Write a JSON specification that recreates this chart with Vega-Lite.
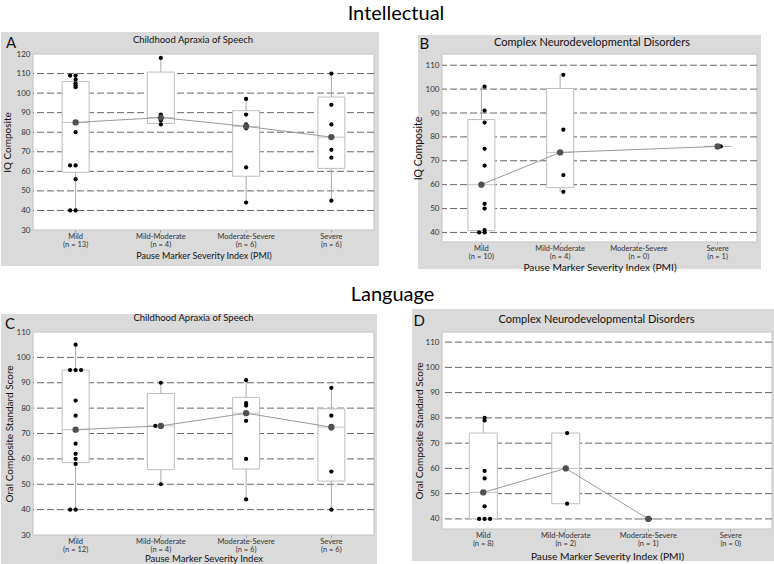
{
 "$schema": "https://vega.github.io/schema/vega-lite/v6.json",
 "background": "white",
 "padding": {"top": 4, "left": 0, "right": 0, "bottom": 0},
 "spacing": 11,
 "config": {
  "view": {"stroke": null},
  "font": "Lato",
  "axis": {"grid": false, "domain": false, "labelFont": "Lato", "titleFont": "Lato", "titleFontWeight": "normal", "labelColor": "#333", "titleColor": "#111", "labelOverlap": false},
  "axisY": {"ticks": false, "labelPadding": 3, "labelFontSize": 8, "titleFontSize": 10},
  "axisX": {"ticks": true, "tickSize": 2, "tickColor": "#999", "labelPadding": 0.5, "labelFontSize": 7.5, "labelLineHeight": 8, "labelAngle": 0, "titlePadding": 1, "titleFontSize": 9}
 },
 "datasets": {
  "grid_ab": [{"v":40},{"v":50},{"v":60},{"v":70},{"v":80},{"v":90},{"v":100},{"v":110}],
  "grid_c": [{"v":40},{"v":50},{"v":60},{"v":70},{"v":80},{"v":90},{"v":100}],
  "A_stats": [
   {"g":"Mild (n = 13)","lo":40,"q1":59.5,"med":85,"q3":106,"hi":109},
   {"g":"Mild-Moderate (n = 4)","lo":84,"q1":84.5,"med":87.5,"q3":110.75,"hi":118},
   {"g":"Moderate-Severe (n = 6)","lo":44,"q1":57.5,"med":83,"q3":91,"hi":97},
   {"g":"Severe (n = 6)","lo":45,"q1":61.5,"med":77.5,"q3":98,"hi":110}
  ],
  "A_pts": [
   {"g":"Mild (n = 13)","v":40},{"g":"Mild (n = 13)","v":40},{"g":"Mild (n = 13)","v":56},{"g":"Mild (n = 13)","v":63},{"g":"Mild (n = 13)","v":63},{"g":"Mild (n = 13)","v":80},{"g":"Mild (n = 13)","v":85},{"g":"Mild (n = 13)","v":103},{"g":"Mild (n = 13)","v":104},{"g":"Mild (n = 13)","v":105},{"g":"Mild (n = 13)","v":107},{"g":"Mild (n = 13)","v":109},{"g":"Mild (n = 13)","v":109},
   {"g":"Mild-Moderate (n = 4)","v":84},{"g":"Mild-Moderate (n = 4)","v":86},{"g":"Mild-Moderate (n = 4)","v":89},{"g":"Mild-Moderate (n = 4)","v":118},
   {"g":"Moderate-Severe (n = 6)","v":44},{"g":"Moderate-Severe (n = 6)","v":62},{"g":"Moderate-Severe (n = 6)","v":82},{"g":"Moderate-Severe (n = 6)","v":84},{"g":"Moderate-Severe (n = 6)","v":89},{"g":"Moderate-Severe (n = 6)","v":97},
   {"g":"Severe (n = 6)","v":45},{"g":"Severe (n = 6)","v":67},{"g":"Severe (n = 6)","v":71},{"g":"Severe (n = 6)","v":84},{"g":"Severe (n = 6)","v":94},{"g":"Severe (n = 6)","v":110}
  ],
  "B_stats": [
   {"g":"Mild (n = 10)","lo":40,"q1":40.75,"med":60,"q3":87.25,"hi":101},
   {"g":"Mild-Moderate (n = 4)","lo":57,"q1":58.75,"med":73.5,"q3":100.25,"hi":106},
   {"g":"Severe (n = 1)","lo":76,"q1":76,"med":76,"q3":76,"hi":76}
  ],
  "B_pts": [
   {"g":"Mild (n = 10)","v":40},{"g":"Mild (n = 10)","v":40},{"g":"Mild (n = 10)","v":41},{"g":"Mild (n = 10)","v":50},{"g":"Mild (n = 10)","v":52},{"g":"Mild (n = 10)","v":68},{"g":"Mild (n = 10)","v":75},{"g":"Mild (n = 10)","v":86},{"g":"Mild (n = 10)","v":91},{"g":"Mild (n = 10)","v":101},
   {"g":"Mild-Moderate (n = 4)","v":57},{"g":"Mild-Moderate (n = 4)","v":64},{"g":"Mild-Moderate (n = 4)","v":83},{"g":"Mild-Moderate (n = 4)","v":106},
   {"g":"Severe (n = 1)","v":76}
  ],
  "C_stats": [
   {"g":"Mild (n = 12)","lo":40,"q1":58.5,"med":71.5,"q3":95,"hi":105},
   {"g":"Mild-Moderate (n = 4)","lo":50,"q1":55.75,"med":73,"q3":85.75,"hi":90},
   {"g":"Moderate-Severe (n = 6)","lo":44,"q1":56,"med":78,"q3":84.25,"hi":91},
   {"g":"Severe (n = 6)","lo":40,"q1":51.25,"med":72.5,"q3":79.75,"hi":88}
  ],
  "C_pts": [
   {"g":"Mild (n = 12)","v":40},{"g":"Mild (n = 12)","v":40},{"g":"Mild (n = 12)","v":58},{"g":"Mild (n = 12)","v":60},{"g":"Mild (n = 12)","v":62},{"g":"Mild (n = 12)","v":66},{"g":"Mild (n = 12)","v":77},{"g":"Mild (n = 12)","v":83},{"g":"Mild (n = 12)","v":95},{"g":"Mild (n = 12)","v":95},{"g":"Mild (n = 12)","v":95},{"g":"Mild (n = 12)","v":105},
   {"g":"Mild-Moderate (n = 4)","v":50},{"g":"Mild-Moderate (n = 4)","v":73},{"g":"Mild-Moderate (n = 4)","v":73},{"g":"Mild-Moderate (n = 4)","v":90},
   {"g":"Moderate-Severe (n = 6)","v":44},{"g":"Moderate-Severe (n = 6)","v":60},{"g":"Moderate-Severe (n = 6)","v":75},{"g":"Moderate-Severe (n = 6)","v":81},{"g":"Moderate-Severe (n = 6)","v":82},{"g":"Moderate-Severe (n = 6)","v":91},
   {"g":"Severe (n = 6)","v":40},{"g":"Severe (n = 6)","v":55},{"g":"Severe (n = 6)","v":72},{"g":"Severe (n = 6)","v":73},{"g":"Severe (n = 6)","v":77},{"g":"Severe (n = 6)","v":88}
  ],
  "D_stats": [
   {"g":"Mild (n = 8)","lo":40,"q1":40,"med":50.5,"q3":74,"hi":80},
   {"g":"Mild-Moderate (n = 2)","lo":46,"q1":46,"med":60,"q3":74,"hi":74},
   {"g":"Moderate-Severe (n = 1)","lo":40,"q1":40,"med":40,"q3":40,"hi":40}
  ],
  "D_pts": [
   {"g":"Mild (n = 8)","v":40},{"g":"Mild (n = 8)","v":40},{"g":"Mild (n = 8)","v":40},{"g":"Mild (n = 8)","v":45},{"g":"Mild (n = 8)","v":56},{"g":"Mild (n = 8)","v":59},{"g":"Mild (n = 8)","v":79},{"g":"Mild (n = 8)","v":80},
   {"g":"Mild-Moderate (n = 2)","v":46},{"g":"Mild-Moderate (n = 2)","v":74},
   {"g":"Moderate-Severe (n = 1)","v":40}
  ]
 },
 "vconcat": [
  {
   "title": {"text": "Intellectual", "font": "Lato", "fontSize": 20, "fontWeight": "normal", "color": "#000", "frame": "bounds", "anchor": "middle", "baseline": "alphabetic", "offset": -8, "dx": 15},
   "spacing": 33,
   "hconcat": [
    {
     "width": 341, "height": 176,
     "layer": [
      {"data": {"values": [{}]}, "mark": {"type": "rect", "fill": "#dadada", "clip": false},
       "encoding": {"x": {"datum": "Mild (n = 13)", "type": "nominal", "bandPosition": -0.3754, "scale": {"type": "band", "domain": ["Mild (n = 13)", "Mild-Moderate (n = 4)", "Moderate-Severe (n = 6)", "Severe (n = 6)"], "paddingInner": 0, "paddingOuter": 0}},
                    "x2": {"datum": "Severe (n = 6)", "bandPosition": 1.0587},
                    "y": {"datum": 11.59, "type": "quantitative", "scale": {"domain": [30, 120], "nice": false, "zero": false}}, "y2": {"datum": 131.25}}},
      {"data": {"values": [{}]}, "mark": {"type": "rect", "fill": "white", "stroke": "#c4c4c4", "strokeWidth": 1},
       "encoding": {"x": {"datum": "Mild (n = 13)", "type": "nominal", "bandPosition": 0, "scale": {"type": "band", "domain": ["Mild (n = 13)", "Mild-Moderate (n = 4)", "Moderate-Severe (n = 6)", "Severe (n = 6)"], "paddingInner": 0, "paddingOuter": 0}},
                    "x2": {"datum": "Severe (n = 6)", "bandPosition": 1},
                    "y": {"datum": 30, "type": "quantitative", "scale": {"domain": [30, 120], "nice": false, "zero": false}}, "y2": {"datum": 120}}},
      {"data": {"values": [{"label": "A"}]}, "mark": {"type": "text", "font": "Lato", "fontSize": 15, "align": "left", "baseline": "alphabetic", "color": "#111", "clip": false},
       "encoding": {"x": {"datum": "Mild (n = 13)", "type": "nominal", "bandPosition": -0.3167, "scale": {"type": "band", "domain": ["Mild (n = 13)", "Mild-Moderate (n = 4)", "Moderate-Severe (n = 6)", "Severe (n = 6)"], "paddingInner": 0, "paddingOuter": 0}},
                    "y": {"datum": 123.22, "type": "quantitative", "scale": {"domain": [30, 120], "nice": false, "zero": false}}, "text": {"field": "label"}}},
      {"data": {"values": [{"label": "Childhood Apraxia of Speech"}]}, "mark": {"type": "text", "font": "Lato", "fontSize": 9.5, "align": "center", "baseline": "alphabetic", "color": "#111", "clip": false},
       "encoding": {"x": {"datum": "Mild (n = 13)", "type": "nominal", "bandPosition": 1.8768, "scale": {"type": "band", "domain": ["Mild (n = 13)", "Mild-Moderate (n = 4)", "Moderate-Severe (n = 6)", "Severe (n = 6)"], "paddingInner": 0, "paddingOuter": 0}},
                    "y": {"datum": 125.88, "type": "quantitative", "scale": {"domain": [30, 120], "nice": false, "zero": false}}, "text": {"field": "label"}}},
      {"data": {"name": "grid_ab"}, "mark": {"type": "rule", "color": "#666", "strokeDash": [7, 3], "strokeWidth": 1},
       "encoding": {"y": {"field": "v", "type": "quantitative", "scale": {"domain": [30, 120], "nice": false, "zero": false}, "axis": {"zindex": 1, "title": "IQ Composite", "values": [30, 40, 50, 60, 70, 80, 90, 100, 110, 120], "tickCount": 20, "labelOverlap": false, "titlePadding": 4}}}},
      {"data": {"name": "A_stats"}, "mark": {"type": "rule", "color": "#aaa", "strokeWidth": 1},
       "encoding": {"x": {"field": "g", "type": "nominal", "scale": {"type": "band", "domain": ["Mild (n = 13)", "Mild-Moderate (n = 4)", "Moderate-Severe (n = 6)", "Severe (n = 6)"], "paddingInner": 0, "paddingOuter": 0}, "axis": {"zindex": 1, "title": "Pause Marker Severity Index (PMI)", "labelLineHeight": 8, "titlePadding": 3, "labelExpr": "[split(datum.label, ' (')[0], '(' + split(datum.label, ' (')[1]]"}},
                    "y": {"field": "lo", "type": "quantitative", "scale": {"domain": [30, 120], "nice": false, "zero": false}}, "y2": {"field": "hi"}}},
      {"data": {"name": "A_stats"}, "mark": {"type": "bar", "width": 27, "fill": "white", "stroke": "#bdbdbd", "strokeWidth": 1},
       "encoding": {"x": {"field": "g", "type": "nominal", "scale": {"type": "band", "domain": ["Mild (n = 13)", "Mild-Moderate (n = 4)", "Moderate-Severe (n = 6)", "Severe (n = 6)"], "paddingInner": 0, "paddingOuter": 0}},
                    "y": {"field": "q1", "type": "quantitative", "scale": {"domain": [30, 120], "nice": false, "zero": false}}, "y2": {"field": "q3"}}},
      {"data": {"name": "A_stats"}, "mark": {"type": "tick", "size": 27, "thickness": 1, "color": "#aaa"},
       "encoding": {"x": {"field": "g", "type": "nominal", "scale": {"type": "band", "domain": ["Mild (n = 13)", "Mild-Moderate (n = 4)", "Moderate-Severe (n = 6)", "Severe (n = 6)"], "paddingInner": 0, "paddingOuter": 0}},
                    "y": {"field": "med", "type": "quantitative", "scale": {"domain": [30, 120], "nice": false, "zero": false}}}},
      {"data": {"name": "A_stats"}, "mark": {"type": "line", "color": "#9a9a9a", "strokeWidth": 1},
       "encoding": {"x": {"field": "g", "type": "nominal", "scale": {"type": "band", "domain": ["Mild (n = 13)", "Mild-Moderate (n = 4)", "Moderate-Severe (n = 6)", "Severe (n = 6)"], "paddingInner": 0, "paddingOuter": 0}},
                    "y": {"field": "med", "type": "quantitative", "scale": {"domain": [30, 120], "nice": false, "zero": false}}}},
      {"data": {"name": "A_pts"}, "transform": [{"window": [{"op": "row_number", "as": "rn"}], "groupby": ["g", "v"]}],
       "mark": {"type": "circle", "size": 18, "color": "#000", "opacity": 1},
       "encoding": {"x": {"field": "g", "type": "nominal", "scale": {"type": "band", "domain": ["Mild (n = 13)", "Mild-Moderate (n = 4)", "Moderate-Severe (n = 6)", "Severe (n = 6)"], "paddingInner": 0, "paddingOuter": 0}},
                    "xOffset": {"field": "rn", "type": "nominal", "scale": {"type": "point", "domain": [2, 1, 3], "range": [37.1, 48.1], "padding": 0}},
                    "y": {"field": "v", "type": "quantitative", "scale": {"domain": [30, 120], "nice": false, "zero": false}}}},
      {"data": {"name": "A_stats"}, "mark": {"type": "circle", "size": 40, "color": "#505050", "opacity": 1},
       "encoding": {"x": {"field": "g", "type": "nominal", "scale": {"type": "band", "domain": ["Mild (n = 13)", "Mild-Moderate (n = 4)", "Moderate-Severe (n = 6)", "Severe (n = 6)"], "paddingInner": 0, "paddingOuter": 0}},
                    "y": {"field": "med", "type": "quantitative", "scale": {"domain": [30, 120], "nice": false, "zero": false}}}}
     ]
    },
    {
     "width": 315, "height": 188,
     "layer": [
      {"data": {"values": [{}]}, "mark": {"type": "rect", "fill": "#dadada", "clip": false},
       "encoding": {"x": {"datum": "Mild (n = 10)", "type": "nominal", "bandPosition": -0.3048, "scale": {"type": "band", "domain": ["Mild (n = 10)", "Mild-Moderate (n = 4)", "Moderate-Severe (n = 0)", "Severe (n = 1)"], "paddingInner": 0, "paddingOuter": 0}},
                    "x2": {"datum": "Severe (n = 1)", "bandPosition": 1.0508},
                    "y": {"datum": 24.7, "type": "quantitative", "scale": {"domain": [36, 114.7], "nice": false, "zero": false}}, "y2": {"datum": 122.65}}},
      {"data": {"values": [{}]}, "mark": {"type": "rect", "fill": "white", "stroke": "#c4c4c4", "strokeWidth": 1},
       "encoding": {"x": {"datum": "Mild (n = 10)", "type": "nominal", "bandPosition": 0, "scale": {"type": "band", "domain": ["Mild (n = 10)", "Mild-Moderate (n = 4)", "Moderate-Severe (n = 0)", "Severe (n = 1)"], "paddingInner": 0, "paddingOuter": 0}},
                    "x2": {"datum": "Severe (n = 1)", "bandPosition": 1},
                    "y": {"datum": 36, "type": "quantitative", "scale": {"domain": [36, 114.7], "nice": false, "zero": false}}, "y2": {"datum": 114.7}}},
      {"data": {"values": [{"label": "B"}]}, "mark": {"type": "text", "font": "Lato", "fontSize": 15, "align": "left", "baseline": "alphabetic", "color": "#111", "clip": false},
       "encoding": {"x": {"datum": "Mild (n = 10)", "type": "nominal", "bandPosition": -0.2857, "scale": {"type": "band", "domain": ["Mild (n = 10)", "Mild-Moderate (n = 4)", "Moderate-Severe (n = 0)", "Severe (n = 1)"], "paddingInner": 0, "paddingOuter": 0}},
                    "y": {"datum": 116.67, "type": "quantitative", "scale": {"domain": [36, 114.7], "nice": false, "zero": false}}, "text": {"field": "label"}}},
      {"data": {"values": [{"label": "Complex Neurodevelopmental Disorders"}]}, "mark": {"type": "text", "font": "Lato", "fontSize": 11, "align": "center", "baseline": "alphabetic", "color": "#111", "clip": false},
       "encoding": {"x": {"datum": "Mild (n = 10)", "type": "nominal", "bandPosition": 1.9048, "scale": {"type": "band", "domain": ["Mild (n = 10)", "Mild-Moderate (n = 4)", "Moderate-Severe (n = 0)", "Severe (n = 1)"], "paddingInner": 0, "paddingOuter": 0}},
                    "y": {"datum": 118.05, "type": "quantitative", "scale": {"domain": [36, 114.7], "nice": false, "zero": false}}, "text": {"field": "label"}}},
      {"data": {"name": "grid_ab"}, "mark": {"type": "rule", "color": "#666", "strokeDash": [7, 3], "strokeWidth": 1},
       "encoding": {"y": {"field": "v", "type": "quantitative", "scale": {"domain": [36, 114.7], "nice": false, "zero": false}, "axis": {"zindex": 1, "title": "IQ Composite", "values": [40, 50, 60, 70, 80, 90, 100, 110], "tickCount": 20, "labelOverlap": false, "titlePadding": 2, "titleFontSize": 10.5}}}},
      {"data": {"name": "B_stats"}, "mark": {"type": "rule", "color": "#aaa", "strokeWidth": 1},
       "encoding": {"x": {"field": "g", "type": "nominal", "scale": {"type": "band", "domain": ["Mild (n = 10)", "Mild-Moderate (n = 4)", "Moderate-Severe (n = 0)", "Severe (n = 1)"], "paddingInner": 0, "paddingOuter": 0}, "axis": {"zindex": 1, "title": "Pause Marker Severity Index (PMI)", "titleFontSize": 10.2, "labelLineHeight": 8, "titlePadding": 2, "labelExpr": "[split(datum.label, ' (')[0], '(' + split(datum.label, ' (')[1]]"}},
                    "y": {"field": "lo", "type": "quantitative", "scale": {"domain": [36, 114.7], "nice": false, "zero": false}}, "y2": {"field": "hi"}}},
      {"data": {"name": "B_stats"}, "mark": {"type": "bar", "width": 27, "fill": "white", "stroke": "#bdbdbd", "strokeWidth": 1},
       "encoding": {"x": {"field": "g", "type": "nominal", "scale": {"type": "band", "domain": ["Mild (n = 10)", "Mild-Moderate (n = 4)", "Moderate-Severe (n = 0)", "Severe (n = 1)"], "paddingInner": 0, "paddingOuter": 0}},
                    "y": {"field": "q1", "type": "quantitative", "scale": {"domain": [36, 114.7], "nice": false, "zero": false}}, "y2": {"field": "q3"}}},
      {"data": {"name": "B_stats"}, "mark": {"type": "tick", "size": 27, "thickness": 1, "color": "#aaa"},
       "encoding": {"x": {"field": "g", "type": "nominal", "scale": {"type": "band", "domain": ["Mild (n = 10)", "Mild-Moderate (n = 4)", "Moderate-Severe (n = 0)", "Severe (n = 1)"], "paddingInner": 0, "paddingOuter": 0}},
                    "y": {"field": "med", "type": "quantitative", "scale": {"domain": [36, 114.7], "nice": false, "zero": false}}}},
      {"data": {"name": "B_stats"}, "mark": {"type": "line", "color": "#9a9a9a", "strokeWidth": 1},
       "encoding": {"x": {"field": "g", "type": "nominal", "scale": {"type": "band", "domain": ["Mild (n = 10)", "Mild-Moderate (n = 4)", "Moderate-Severe (n = 0)", "Severe (n = 1)"], "paddingInner": 0, "paddingOuter": 0}},
                    "y": {"field": "med", "type": "quantitative", "scale": {"domain": [36, 114.7], "nice": false, "zero": false}}}},
      {"data": {"name": "B_pts"}, "transform": [{"window": [{"op": "row_number", "as": "rn"}], "groupby": ["g", "v"]}],
       "mark": {"type": "circle", "size": 18, "color": "#000", "opacity": 1},
       "encoding": {"x": {"field": "g", "type": "nominal", "scale": {"type": "band", "domain": ["Mild (n = 10)", "Mild-Moderate (n = 4)", "Moderate-Severe (n = 0)", "Severe (n = 1)"], "paddingInner": 0, "paddingOuter": 0}},
                    "xOffset": {"field": "rn", "type": "nominal", "scale": {"type": "point", "domain": [2, 1, 3], "range": [33.9, 44.9], "padding": 0}},
                    "y": {"field": "v", "type": "quantitative", "scale": {"domain": [36, 114.7], "nice": false, "zero": false}}}},
      {"data": {"name": "B_stats"}, "mark": {"type": "circle", "size": 40, "color": "#505050", "opacity": 1},
       "encoding": {"x": {"field": "g", "type": "nominal", "scale": {"type": "band", "domain": ["Mild (n = 10)", "Mild-Moderate (n = 4)", "Moderate-Severe (n = 0)", "Severe (n = 1)"], "paddingInner": 0, "paddingOuter": 0}},
                    "y": {"field": "med", "type": "quantitative", "scale": {"domain": [36, 114.7], "nice": false, "zero": false}}}}
     ]
    }
   ]
  },
  {
   "title": {"text": "Language", "font": "Lato", "fontSize": 20, "fontWeight": "normal", "color": "#000", "frame": "bounds", "anchor": "middle", "baseline": "alphabetic", "offset": -12, "dx": 4},
   "spacing": 34,
   "hconcat": [
    {
     "width": 341, "height": 203,
     "layer": [
      {"data": {"values": [{}]}, "mark": {"type": "rect", "fill": "#dadada", "clip": false},
       "encoding": {"x": {"datum": "Mild (n = 12)", "type": "nominal", "bandPosition": -0.3754, "scale": {"type": "band", "domain": ["Mild (n = 12)", "Mild-Moderate (n = 4)", "Moderate-Severe (n = 6)", "Severe (n = 6)"], "paddingInner": 0, "paddingOuter": 0}},
                    "x2": {"datum": "Severe (n = 6)", "bandPosition": 1.0352},
                    "y": {"datum": 17.78, "type": "quantitative", "scale": {"domain": [30, 110], "nice": false, "zero": false}}, "y2": {"datum": 117.09}}},
      {"data": {"values": [{}]}, "mark": {"type": "rect", "fill": "white", "stroke": "#c4c4c4", "strokeWidth": 1},
       "encoding": {"x": {"datum": "Mild (n = 12)", "type": "nominal", "bandPosition": 0, "scale": {"type": "band", "domain": ["Mild (n = 12)", "Mild-Moderate (n = 4)", "Moderate-Severe (n = 6)", "Severe (n = 6)"], "paddingInner": 0, "paddingOuter": 0}},
                    "x2": {"datum": "Severe (n = 6)", "bandPosition": 1},
                    "y": {"datum": 30, "type": "quantitative", "scale": {"domain": [30, 110], "nice": false, "zero": false}}, "y2": {"datum": 110}}},
      {"data": {"values": [{"label": "C"}]}, "mark": {"type": "text", "font": "Lato", "fontSize": 15, "align": "left", "baseline": "alphabetic", "color": "#111", "clip": false},
       "encoding": {"x": {"datum": "Mild (n = 12)", "type": "nominal", "bandPosition": -0.3284, "scale": {"type": "band", "domain": ["Mild (n = 12)", "Mild-Moderate (n = 4)", "Moderate-Severe (n = 6)", "Severe (n = 6)"], "paddingInner": 0, "paddingOuter": 0}},
                    "y": {"datum": 111.3, "type": "quantitative", "scale": {"domain": [30, 110], "nice": false, "zero": false}}, "text": {"field": "label"}}},
      {"data": {"values": [{"label": "Childhood Apraxia of Speech"}]}, "mark": {"type": "text", "font": "Lato", "fontSize": 9.5, "align": "center", "baseline": "alphabetic", "color": "#111", "clip": false},
       "encoding": {"x": {"datum": "Mild (n = 12)", "type": "nominal", "bandPosition": 1.8827, "scale": {"type": "band", "domain": ["Mild (n = 12)", "Mild-Moderate (n = 4)", "Moderate-Severe (n = 6)", "Severe (n = 6)"], "paddingInner": 0, "paddingOuter": 0}},
                    "y": {"datum": 114.33, "type": "quantitative", "scale": {"domain": [30, 110], "nice": false, "zero": false}}, "text": {"field": "label"}}},
      {"data": {"name": "grid_c"}, "mark": {"type": "rule", "color": "#666", "strokeDash": [7, 3], "strokeWidth": 1},
       "encoding": {"y": {"field": "v", "type": "quantitative", "scale": {"domain": [30, 110], "nice": false, "zero": false}, "axis": {"zindex": 1, "title": "Oral Composite Standard Score", "values": [30, 40, 50, 60, 70, 80, 90, 100, 110], "tickCount": 20, "labelOverlap": false, "titlePadding": 2}}}},
      {"data": {"name": "C_stats"}, "mark": {"type": "rule", "color": "#aaa", "strokeWidth": 1},
       "encoding": {"x": {"field": "g", "type": "nominal", "scale": {"type": "band", "domain": ["Mild (n = 12)", "Mild-Moderate (n = 4)", "Moderate-Severe (n = 6)", "Severe (n = 6)"], "paddingInner": 0, "paddingOuter": 0}, "axis": {"zindex": 1, "title": "Pause Marker Severity Index", "titleFontSize": 9.5, "labelLineHeight": 8, "titlePadding": 0, "labelExpr": "[split(datum.label, ' (')[0], '(' + split(datum.label, ' (')[1]]"}},
                    "y": {"field": "lo", "type": "quantitative", "scale": {"domain": [30, 110], "nice": false, "zero": false}}, "y2": {"field": "hi"}}},
      {"data": {"name": "C_stats"}, "mark": {"type": "bar", "width": 27, "fill": "white", "stroke": "#bdbdbd", "strokeWidth": 1},
       "encoding": {"x": {"field": "g", "type": "nominal", "scale": {"type": "band", "domain": ["Mild (n = 12)", "Mild-Moderate (n = 4)", "Moderate-Severe (n = 6)", "Severe (n = 6)"], "paddingInner": 0, "paddingOuter": 0}},
                    "y": {"field": "q1", "type": "quantitative", "scale": {"domain": [30, 110], "nice": false, "zero": false}}, "y2": {"field": "q3"}}},
      {"data": {"name": "C_stats"}, "mark": {"type": "tick", "size": 27, "thickness": 1, "color": "#aaa"},
       "encoding": {"x": {"field": "g", "type": "nominal", "scale": {"type": "band", "domain": ["Mild (n = 12)", "Mild-Moderate (n = 4)", "Moderate-Severe (n = 6)", "Severe (n = 6)"], "paddingInner": 0, "paddingOuter": 0}},
                    "y": {"field": "med", "type": "quantitative", "scale": {"domain": [30, 110], "nice": false, "zero": false}}}},
      {"data": {"name": "C_stats"}, "mark": {"type": "line", "color": "#9a9a9a", "strokeWidth": 1},
       "encoding": {"x": {"field": "g", "type": "nominal", "scale": {"type": "band", "domain": ["Mild (n = 12)", "Mild-Moderate (n = 4)", "Moderate-Severe (n = 6)", "Severe (n = 6)"], "paddingInner": 0, "paddingOuter": 0}},
                    "y": {"field": "med", "type": "quantitative", "scale": {"domain": [30, 110], "nice": false, "zero": false}}}},
      {"data": {"name": "C_pts"}, "transform": [{"window": [{"op": "row_number", "as": "rn"}], "groupby": ["g", "v"]}],
       "mark": {"type": "circle", "size": 18, "color": "#000", "opacity": 1},
       "encoding": {"x": {"field": "g", "type": "nominal", "scale": {"type": "band", "domain": ["Mild (n = 12)", "Mild-Moderate (n = 4)", "Moderate-Severe (n = 6)", "Severe (n = 6)"], "paddingInner": 0, "paddingOuter": 0}},
                    "xOffset": {"field": "rn", "type": "nominal", "scale": {"type": "point", "domain": [2, 1, 3], "range": [37.1, 48.1], "padding": 0}},
                    "y": {"field": "v", "type": "quantitative", "scale": {"domain": [30, 110], "nice": false, "zero": false}}}},
      {"data": {"name": "C_stats"}, "mark": {"type": "circle", "size": 40, "color": "#505050", "opacity": 1},
       "encoding": {"x": {"field": "g", "type": "nominal", "scale": {"type": "band", "domain": ["Mild (n = 12)", "Mild-Moderate (n = 4)", "Moderate-Severe (n = 6)", "Severe (n = 6)"], "paddingInner": 0, "paddingOuter": 0}},
                    "y": {"field": "med", "type": "quantitative", "scale": {"domain": [30, 110], "nice": false, "zero": false}}}}
     ]
    },
    {
     "width": 330, "height": 197,
     "layer": [
      {"data": {"values": [{}]}, "mark": {"type": "rect", "fill": "#dadada", "clip": false},
       "encoding": {"x": {"datum": "Mild (n = 8)", "type": "nominal", "bandPosition": -0.3636, "scale": {"type": "band", "domain": ["Mild (n = 8)", "Mild-Moderate (n = 2)", "Moderate-Severe (n = 1)", "Severe (n = 0)"], "paddingInner": 0, "paddingOuter": 0}},
                    "x2": {"datum": "Severe (n = 0)", "bandPosition": 1.0485},
                    "y": {"datum": 23.33, "type": "quantitative", "scale": {"domain": [36, 114], "nice": false, "zero": false}}, "y2": {"datum": 123.11}}},
      {"data": {"values": [{}]}, "mark": {"type": "rect", "fill": "white", "stroke": "#c4c4c4", "strokeWidth": 1},
       "encoding": {"x": {"datum": "Mild (n = 8)", "type": "nominal", "bandPosition": 0, "scale": {"type": "band", "domain": ["Mild (n = 8)", "Mild-Moderate (n = 2)", "Moderate-Severe (n = 1)", "Severe (n = 0)"], "paddingInner": 0, "paddingOuter": 0}},
                    "x2": {"datum": "Severe (n = 0)", "bandPosition": 1},
                    "y": {"datum": 36, "type": "quantitative", "scale": {"domain": [36, 114], "nice": false, "zero": false}}, "y2": {"datum": 114}}},
      {"data": {"values": [{"label": "D"}]}, "mark": {"type": "text", "font": "Lato", "fontSize": 15, "align": "left", "baseline": "alphabetic", "color": "#111", "clip": false},
       "encoding": {"x": {"datum": "Mild (n = 8)", "type": "nominal", "bandPosition": -0.3455, "scale": {"type": "band", "domain": ["Mild (n = 8)", "Mild-Moderate (n = 2)", "Moderate-Severe (n = 1)", "Severe (n = 0)"], "paddingInner": 0, "paddingOuter": 0}},
                    "y": {"datum": 116.26, "type": "quantitative", "scale": {"domain": [36, 114], "nice": false, "zero": false}}, "text": {"field": "label"}}},
      {"data": {"values": [{"label": "Complex Neurodevelopmental Disorders"}]}, "mark": {"type": "text", "font": "Lato", "fontSize": 11, "align": "center", "baseline": "alphabetic", "color": "#111", "clip": false},
       "encoding": {"x": {"datum": "Mild (n = 8)", "type": "nominal", "bandPosition": 1.8727, "scale": {"type": "band", "domain": ["Mild (n = 8)", "Mild-Moderate (n = 2)", "Moderate-Severe (n = 1)", "Severe (n = 0)"], "paddingInner": 0, "paddingOuter": 0}},
                    "y": {"datum": 117.37, "type": "quantitative", "scale": {"domain": [36, 114], "nice": false, "zero": false}}, "text": {"field": "label"}}},
      {"data": {"name": "grid_ab"}, "mark": {"type": "rule", "color": "#666", "strokeDash": [7, 3], "strokeWidth": 1},
       "encoding": {"y": {"field": "v", "type": "quantitative", "scale": {"domain": [36, 114], "nice": false, "zero": false}, "axis": {"zindex": 1, "title": "Oral Composite Standard Score", "values": [40, 50, 60, 70, 80, 90, 100, 110], "tickCount": 20, "labelOverlap": false, "titlePadding": 1}}}},
      {"data": {"name": "D_stats"}, "mark": {"type": "rule", "color": "#aaa", "strokeWidth": 1},
       "encoding": {"x": {"field": "g", "type": "nominal", "scale": {"type": "band", "domain": ["Mild (n = 8)", "Mild-Moderate (n = 2)", "Moderate-Severe (n = 1)", "Severe (n = 0)"], "paddingInner": 0, "paddingOuter": 0}, "axis": {"zindex": 1, "title": "Pause Marker Severity Index (PMI)", "titleFontSize": 10.2, "labelLineHeight": 8, "titlePadding": 4, "labelExpr": "[split(datum.label, ' (')[0], '(' + split(datum.label, ' (')[1]]"}},
                    "y": {"field": "lo", "type": "quantitative", "scale": {"domain": [36, 114], "nice": false, "zero": false}}, "y2": {"field": "hi"}}},
      {"data": {"name": "D_stats"}, "mark": {"type": "bar", "width": 28, "fill": "white", "stroke": "#bdbdbd", "strokeWidth": 1},
       "encoding": {"x": {"field": "g", "type": "nominal", "scale": {"type": "band", "domain": ["Mild (n = 8)", "Mild-Moderate (n = 2)", "Moderate-Severe (n = 1)", "Severe (n = 0)"], "paddingInner": 0, "paddingOuter": 0}},
                    "y": {"field": "q1", "type": "quantitative", "scale": {"domain": [36, 114], "nice": false, "zero": false}}, "y2": {"field": "q3"}}},
      {"data": {"name": "D_stats"}, "mark": {"type": "tick", "size": 28, "thickness": 1, "color": "#aaa"},
       "encoding": {"x": {"field": "g", "type": "nominal", "scale": {"type": "band", "domain": ["Mild (n = 8)", "Mild-Moderate (n = 2)", "Moderate-Severe (n = 1)", "Severe (n = 0)"], "paddingInner": 0, "paddingOuter": 0}},
                    "y": {"field": "med", "type": "quantitative", "scale": {"domain": [36, 114], "nice": false, "zero": false}}}},
      {"data": {"name": "D_stats"}, "mark": {"type": "line", "color": "#9a9a9a", "strokeWidth": 1},
       "encoding": {"x": {"field": "g", "type": "nominal", "scale": {"type": "band", "domain": ["Mild (n = 8)", "Mild-Moderate (n = 2)", "Moderate-Severe (n = 1)", "Severe (n = 0)"], "paddingInner": 0, "paddingOuter": 0}},
                    "y": {"field": "med", "type": "quantitative", "scale": {"domain": [36, 114], "nice": false, "zero": false}}}},
      {"data": {"name": "D_pts"}, "transform": [{"window": [{"op": "row_number", "as": "rn"}], "groupby": ["g", "v"]}],
       "mark": {"type": "circle", "size": 18, "color": "#000", "opacity": 1},
       "encoding": {"x": {"field": "g", "type": "nominal", "scale": {"type": "band", "domain": ["Mild (n = 8)", "Mild-Moderate (n = 2)", "Moderate-Severe (n = 1)", "Severe (n = 0)"], "paddingInner": 0, "paddingOuter": 0}},
                    "xOffset": {"field": "rn", "type": "nominal", "scale": {"type": "point", "domain": [2, 1, 3], "range": [35.75, 46.75], "padding": 0}},
                    "y": {"field": "v", "type": "quantitative", "scale": {"domain": [36, 114], "nice": false, "zero": false}}}},
      {"data": {"name": "D_stats"}, "mark": {"type": "circle", "size": 40, "color": "#505050", "opacity": 1},
       "encoding": {"x": {"field": "g", "type": "nominal", "scale": {"type": "band", "domain": ["Mild (n = 8)", "Mild-Moderate (n = 2)", "Moderate-Severe (n = 1)", "Severe (n = 0)"], "paddingInner": 0, "paddingOuter": 0}},
                    "y": {"field": "med", "type": "quantitative", "scale": {"domain": [36, 114], "nice": false, "zero": false}}}}
     ]
    }
   ]
  }
 ]
}
